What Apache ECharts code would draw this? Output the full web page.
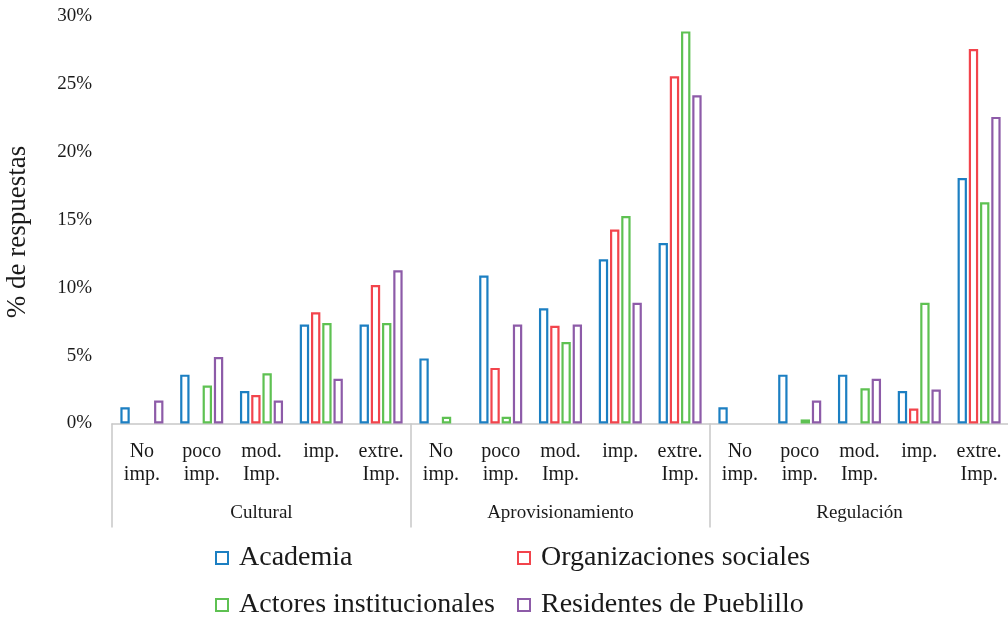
<!DOCTYPE html>
<html>
<head>
<meta charset="utf-8">
<script src="https://cdn.jsdelivr.net/npm/echarts@6/dist/echarts.min.js"></script>
<style>
  html, body { margin: 0; padding: 0; background: #fff; }
  #chart { width: 1008px; height: 618px; }
</style>
</head>
<body>
<div id="chart"></div>
<script>
// Importance levels repeated within each ecosystem-service group
const levels = ['No\nimp.', 'poco\nimp.', 'mod.\nImp.', 'imp.', 'extre.\nImp.'];
const groups = ['Cultural', 'Aprovisionamiento', 'Regulación'];

// Percentage of responses per stakeholder (Cultural | Aprovisionamiento | Regulación)
const academia       = [1.2, 3.6, 2.4, 7.3, 7.3,   4.8, 10.9, 8.5, 12.1, 13.3,   1.2, 3.6, 3.6, 2.4, 18.1];
const organizaciones = [0, 0, 2.1, 8.2, 10.2,      0, 4.1, 7.2, 14.3, 25.6,      0, 0, 0, 1.1, 27.6];
const actores        = [0, 2.8, 3.7, 7.4, 7.4,     0.5, 0.5, 6.0, 15.3, 28.9,    0, 0.3, 2.6, 8.9, 16.3];
const residentes     = [1.7, 4.9, 1.7, 3.3, 11.3,  0, 7.3, 7.3, 8.9, 24.2,       0, 1.7, 3.3, 2.5, 22.6];

const seriesNames = ['Academia', 'Organizaciones sociales', 'Actores institucionales', 'Residentes de Pueblillo'];
const seriesColors = ['#1C7FC2', '#F2444C', '#5EC152', '#8D5BA8'];
const seriesData = [academia, organizaciones, actores, residentes];

const yTicks = { min: 0, max: 30, interval: 5 };
const yTitle = '% de respuestas';

const categories = [];
groups.forEach(() => levels.forEach(l => categories.push(l)));

const serif = "'Liberation Serif', 'Times New Roman', serif";
const textColor = '#1a1a1a';

// Legend entries laid out in two columns, two rows
const legendSlots = [
  { left: 215, top: 544 },
  { left: 517, top: 544 },
  { left: 215, top: 591 },
  { left: 517, top: 591 }
];

const chart = echarts.init(document.getElementById('chart'), null, { renderer: 'canvas' });

chart.setOption({
  animation: false,
  backgroundColor: '#fff',
  grid: { left: 112, top: 16.5, width: 897, height: 407, containLabel: false, outerBoundsMode: 'none' },
  graphic: [{
    type: 'text',
    x: 18,
    y: 232,
    rotation: Math.PI / 2,
    style: {
      text: yTitle,
      fontFamily: serif,
      fontSize: 27,
      fill: textColor,
      align: 'center',
      verticalAlign: 'middle'
    }
  }],
  legend: seriesNames.map((name, i) => ({
    data: [name],
    left: legendSlots[i].left,
    top: legendSlots[i].top,
    padding: 0,
    icon: 'rect',
    itemWidth: 12,
    itemHeight: 12,
    selectedMode: false,
    textStyle: { fontFamily: serif, fontSize: 28, color: textColor, padding: [0, 0, 0, 6] }
  })),
  xAxis: [
    {
      type: 'category',
      data: categories,
      position: 'bottom',
      axisLine: { show: true, lineStyle: { color: '#c8c8c8', width: 1.5 } },
      axisTick: { show: false },
      axisLabel: {
        interval: 0,
        fontFamily: serif,
        fontSize: 20,
        lineHeight: 23,
        color: textColor,
        margin: 17
      }
    },
    {
      type: 'category',
      data: groups,
      position: 'bottom',
      axisLine: { show: false },
      axisTick: { show: true, interval: 0, alignWithLabel: false, length: 104, lineStyle: { color: '#c8c8c8', width: 1.5 } },
      axisLabel: { interval: 0, fontFamily: serif, fontSize: 19, color: textColor, margin: 80 }
    }
  ],
  yAxis: {
    type: 'value',
    min: yTicks.min,
    max: yTicks.max,
    interval: yTicks.interval,
    axisLine: { show: false },
    axisTick: { show: false },
    splitLine: { show: false },
    axisLabel: {
      formatter: '{value}%',
      fontFamily: serif,
      fontSize: 19,
      color: textColor,
      margin: 20
    }
  },
  series: seriesNames.map((name, i) => ({
    name: name,
    type: 'bar',
    xAxisIndex: 0,
    // a zero share leaves no visible bar
    data: seriesData[i].map(v => (v === 0 ? '-' : v)),
    barGap: '20%',
    barCategoryGap: '28%',
    itemStyle: { color: '#ffffff', borderColor: seriesColors[i], borderWidth: 2.2 },
    emphasis: { disabled: true }
  }))
});
</script>
</body>
</html>
